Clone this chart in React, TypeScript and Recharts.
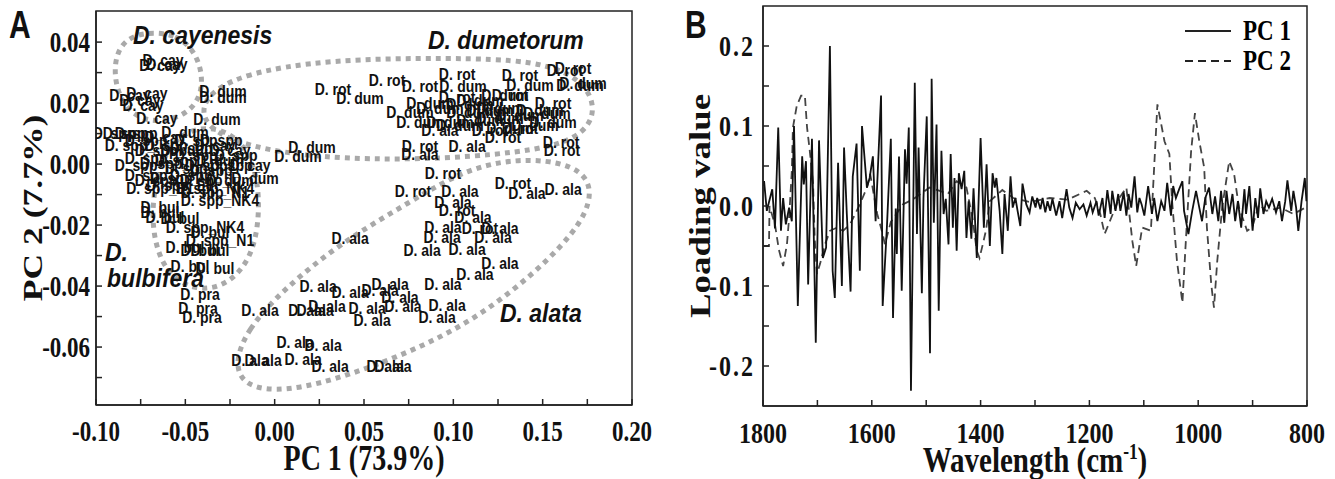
import React from 'react'
import {
  ComposedChart,
  LineChart,
  Line,
  Scatter,
  XAxis,
  YAxis,
  ReferenceArea,
  Legend,
} from 'recharts'

// ---------- Panel A: PCA scores (PC 1 vs PC 2) ----------
const alaPts = [
  [0.0813, 0.0033], [0.1077, 0.0059], [0.1037, -0.0089], [0.1412, -0.0095], [0.1614, -0.0082],
  [0.0998, -0.0125], [0.1110, -0.0174], [0.0942, -0.0207], [0.0937, -0.0239], [0.1222, -0.0239],
  [0.1261, -0.0210], [0.0422, -0.0243], [0.0825, -0.0282], [0.1077, -0.0279], [0.1261, -0.0325],
  [0.1121, -0.0361], [0.0942, -0.0393], [0.0646, -0.0393], [0.0243, -0.0400], [0.0422, -0.0420],
  [0.0590, -0.0413], [0.0701, -0.0436], [0.0293, -0.0466], [0.0517, -0.0472], [0.0718, -0.0466],
  [0.0965, -0.0462], [0.0181, -0.0479], [0.0545, -0.0511], [0.0909, -0.0502], [0.0271, -0.0593],
  [0.0310, -0.0662], [0.0662, -0.0662], [0.0618, -0.0662], [-0.0082, -0.0479], [0.0114, -0.0584],
  [-0.0065, -0.0643], [0.0159, -0.0639], [0.0226, -0.0479], [-0.0138, -0.0643], [0.0925, 0.0111],
]
const rotPts = [
  [0.0813, 0.0059], [0.1603, 0.0072], [0.1608, 0.0046], [0.0942, -0.0030], [0.0774, -0.0089],
  [0.1334, -0.0062], [0.1021, -0.0151], [0.1149, -0.0210], [0.1021, 0.0295], [0.1625, 0.0308],
  [0.1373, 0.0292], [0.0813, 0.0256], [0.1021, 0.0220], [0.1558, 0.0200], [0.1205, 0.0111],
  [0.1278, 0.0089], [0.0326, 0.0246], [0.0629, 0.0275], [0.1670, 0.0315], [0.1317, 0.0226],
  [0.1373, 0.0118],
]
const dumPts = [
  [0.1054, 0.0256], [0.1709, 0.0259], [0.0869, 0.0200], [0.0757, 0.0170], [0.1205, 0.0177],
  [0.1524, 0.0167], [0.0813, 0.0138], [0.1149, 0.0144], [0.1558, 0.0138], [0.0478, 0.0216],
  [0.1726, 0.0266], [0.0131, 0.0026], [0.0209, 0.0056], [-0.0289, 0.0239], [-0.0289, 0.0220],
  [-0.0323, 0.0148], [0.1093, 0.0197], [0.1429, 0.0259], [0.1261, 0.0151], [0.0981, 0.0138],
  [-0.0502, 0.0105], [-0.0306, 0.0013], [-0.0250, -0.0052], [-0.0110, -0.0046],
  [0.0925, 0.0184], [0.1093, 0.0170], [0.1261, 0.0184], [0.1373, 0.0161], [0.1485, 0.0177],
  [0.1037, 0.0128], [0.1317, 0.0118], [0.1457, 0.0128], [0.1149, 0.0210], [0.1289, 0.0226],
]
const cayPts = [
  [-0.0625, 0.0341], [-0.0603, 0.0328], [-0.0642, 0.0325], [-0.0715, 0.0233], [-0.0754, 0.0210],
  [-0.0737, 0.0193], [-0.0810, 0.0226], [-0.0659, 0.0151], [-0.0614, 0.0089], [-0.0334, 0.0062],
  [-0.0250, 0.0046], [-0.0138, -0.0003],
]
const sppPts = [
  [-0.0877, 0.0102], [-0.0821, 0.0102], [-0.0754, 0.0102], [-0.0698, 0.0079], [-0.0418, 0.0079],
  [-0.0194, 0.0030], [-0.0642, 0.0046], [-0.0418, 0.0030], [-0.0754, -0.0003], [-0.0614, 0.0003],
  [-0.0474, -0.0013], [-0.0334, -0.0020], [-0.0698, -0.0036], [-0.0558, -0.0046], [-0.0390, -0.0052],
  [-0.0810, 0.0062], [-0.0586, 0.0062], [-0.0446, 0.0052], [-0.0278, 0.0079], [-0.0698, 0.0020],
  [-0.0530, 0.0013], [-0.0362, -0.0003], [-0.0222, -0.0003], [-0.0642, -0.0052], [-0.0446, -0.0036],
]
const sppE1Pts = [[-0.0642, -0.0079], [-0.0530, -0.0069]]
const sppNK4Pts = [[-0.0334, -0.0079], [-0.0306, -0.0118], [-0.0390, -0.0207]]
const sppN1Pts = [[-0.0334, -0.0092], [-0.0306, -0.0249]]
const bulPts = [
  [-0.0642, -0.0141], [-0.0642, -0.0157], [-0.0614, -0.0174], [-0.0530, -0.0177], [-0.0362, -0.0223],
  [-0.0502, -0.0272], [-0.0418, -0.0282], [-0.0362, -0.0282], [-0.0474, -0.0334], [-0.0334, -0.0341],
  [-0.0530, 0.0046],
]
const praPts = [[-0.0418, -0.0426], [-0.0429, -0.0472], [-0.0407, -0.0502]]

// dotted group outlines
const cayRing = [
  [-0.0765, 0.0433], [-0.0541, 0.0430], [-0.0418, 0.0348], [-0.0396, 0.0236], [-0.0491, 0.0157],
  [-0.0698, 0.0131], [-0.0849, 0.0184], [-0.0905, 0.0292], [-0.0877, 0.0387],
]
const dumRing = [
  [-0.0418, 0.0210], [-0.0205, 0.0295], [0.0310, 0.0344], [0.0981, 0.0348], [0.1457, 0.0341],
  [0.1720, 0.0282], [0.1810, 0.0177], [0.1709, 0.0079], [0.1373, 0.0036], [0.0813, 0.0013],
  [0.0254, 0.0020], [-0.0149, 0.0056], [-0.0390, 0.0118],
]
const alaRing = [
  [-0.0233, -0.0669], [-0.0160, -0.0544], [0.0063, -0.0403], [0.0377, -0.0256], [0.0746, -0.0128],
  [0.1093, -0.0007], [0.1440, 0.0023], [0.1743, -0.0013], [0.1787, -0.0125], [0.1625, -0.0266],
  [0.1278, -0.0446], [0.0937, -0.0570], [0.0534, -0.0669], [0.0142, -0.0741], [-0.0138, -0.0741],
]
const bulRing = [
  [-0.0418, 0.0131], [-0.0205, 0.0098], [-0.0099, -0.0020], [-0.0082, -0.0167], [-0.0127, -0.0308],
  [-0.0267, -0.0400], [-0.0446, -0.0416], [-0.0608, -0.0361], [-0.0687, -0.0233], [-0.0681, -0.0079],
  [-0.0597, 0.0069],
]

const groupNames = [
  { x: -0.0793, y: 0.0423, label: 'D. cayenesis' },
  { x: 0.0858, y: 0.0407, label: 'D. dumetorum' },
  { x: 0.1261, y: -0.0489, label: 'D. alata' },
  { x: -0.0950, y: -0.0289, label: 'D.' },
  { x: -0.0938, y: -0.0374, label: 'bulbifera' },
]

const aXTicks = [-0.1, -0.075, -0.05, -0.025, 0, 0.025, 0.05, 0.075, 0.1, 0.125, 0.15, 0.175, 0.2]
const aYTicks = [-0.07, -0.06, -0.05, -0.04, -0.03, -0.02, -0.01, 0, 0.01, 0.02, 0.03, 0.04]

// ---------- Panel B: loadings ----------
const pc1 = [
  [1800, 0.025], [1798, 0.031], [1793, -0.006], [1783, 0.021], [1778, -0.028], [1772, 0.098],
  [1767, -0.031], [1763, 0.010], [1758, -0.023], [1752, -0.002], [1747, -0.019], [1743, 0.100],
  [1736, -0.125], [1728, 0.062], [1725, 0.027], [1721, 0.056], [1717, -0.098], [1710, 0.084],
  [1703, -0.171], [1697, 0.082], [1690, -0.065], [1684, -0.052], [1677, 0.200], [1672, -0.081],
  [1668, -0.115], [1662, 0.054], [1655, -0.100], [1651, 0.073], [1646, -0.009], [1639, -0.107],
  [1635, 0.037], [1628, 0.078], [1622, -0.081], [1618, 0.100], [1609, 0.023], [1604, 0.035],
  [1598, 0.062], [1593, -0.019], [1583, 0.138], [1580, -0.125], [1572, -0.023], [1565, 0.084],
  [1561, -0.140], [1556, -0.003], [1554, -0.060], [1550, 0.062], [1545, -0.106], [1539, 0.071],
  [1536, 0.028], [1532, 0.098], [1528, -0.231], [1521, 0.154], [1517, -0.035], [1514, 0.073],
  [1508, -0.109], [1505, 0.010], [1499, 0.112], [1493, -0.184], [1490, 0.159], [1486, -0.021],
  [1481, 0.102], [1477, -0.131], [1472, 0.069], [1468, -0.010], [1464, 0.009], [1459, -0.048],
  [1455, 0.065], [1451, -0.027], [1448, 0.035], [1444, -0.056], [1440, 0.041], [1435, 0.021],
  [1430, 0.044], [1426, -0.040], [1422, 0.006], [1417, -0.041], [1413, 0.022], [1407, -0.065],
  [1400, 0.085], [1394, -0.027], [1389, 0.052], [1383, -0.050], [1378, 0.041], [1374, 0.023],
  [1371, 0.035], [1365, -0.006], [1360, -0.060], [1356, 0.015], [1350, -0.031], [1345, 0.037],
  [1341, -0.002], [1336, 0.010], [1332, -0.006], [1327, -0.025], [1323, 0.028], [1316, 0.002],
  [1310, -0.008], [1305, 0.012], [1299, -0.002], [1296, 0.010], [1290, -0.004], [1286, 0.010],
  [1281, -0.008], [1277, 0.006], [1272, -0.006], [1268, 0.009], [1261, -0.012], [1255, 0.006],
  [1250, -0.015], [1242, 0.021], [1237, -0.002], [1231, -0.015], [1225, 0.004], [1218, -0.004],
  [1211, 0.002], [1205, -0.012], [1198, 0.004], [1194, -0.008], [1187, 0.006], [1183, -0.012],
  [1176, 0.010], [1172, -0.015], [1167, 0.020], [1161, -0.010], [1158, 0.019], [1152, -0.006],
  [1147, 0.015], [1143, -0.006], [1137, 0.017], [1132, -0.012], [1128, 0.015], [1123, -0.002],
  [1117, 0.037], [1112, -0.008], [1108, 0.010], [1104, 0.002], [1099, -0.012], [1092, 0.025],
  [1085, -0.010], [1081, 0.010], [1075, -0.019], [1068, 0.006], [1062, -0.006], [1057, 0.029],
  [1050, -0.012], [1046, 0.025], [1041, 0.010], [1035, 0.021], [1029, 0.031], [1026, -0.006],
  [1018, -0.035], [1011, -0.006], [1004, 0.019], [998, -0.002], [993, -0.019], [987, 0.010],
  [980, 0.023], [974, -0.010], [969, 0.012], [963, -0.019], [958, 0.019], [952, -0.021],
  [948, 0.019], [943, -0.010], [937, 0.015], [932, -0.019], [927, 0.006], [921, -0.027],
  [915, 0.021], [912, -0.010], [906, 0.025], [900, -0.031], [895, 0.010], [890, -0.015],
  [886, 0.022], [880, -0.010], [875, 0.006], [870, -0.002], [864, 0.009], [857, -0.008],
  [851, 0.006], [846, -0.019], [840, 0.006], [836, 0.032], [829, -0.006], [825, 0.019],
  [820, -0.002], [816, -0.031], [810, 0.006], [804, 0.035], [801, 0.006],
]
const pc2 = [
  [1800, -0.050], [1789, -0.050], [1788, 0.000], [1783, -0.012], [1778, -0.023], [1771, -0.054],
  [1763, -0.075], [1756, -0.048], [1752, -0.015], [1747, 0.044], [1745, 0.098], [1738, 0.125],
  [1730, 0.138], [1723, 0.138], [1719, 0.098], [1714, 0.069], [1708, 0.028], [1705, -0.040],
  [1701, -0.085], [1695, -0.072], [1686, -0.048], [1677, -0.031], [1664, -0.027], [1653, -0.031],
  [1640, -0.023], [1622, 0.002], [1609, 0.023], [1603, 0.040], [1590, -0.010], [1580, -0.035],
  [1576, -0.048], [1565, -0.020], [1543, 0.002], [1525, 0.008], [1494, 0.023], [1475, 0.019],
  [1460, 0.015], [1444, 0.031], [1426, 0.023], [1415, -0.015], [1407, -0.056], [1402, -0.065],
  [1396, -0.048], [1390, -0.030], [1383, 0.006], [1360, 0.020], [1340, 0.010], [1310, 0.005],
  [1273, 0.010], [1240, 0.008], [1205, 0.019], [1190, 0.010], [1180, -0.010], [1172, -0.035],
  [1160, -0.015], [1145, 0.010], [1132, 0.023], [1121, -0.044], [1114, -0.075], [1103, -0.027],
  [1087, -0.031], [1081, 0.048], [1075, 0.127], [1062, 0.081], [1053, 0.065], [1048, 0.006],
  [1039, -0.069], [1029, -0.121], [1022, -0.035], [1013, 0.069], [1006, 0.116], [998, 0.081],
  [989, 0.048], [984, -0.027], [976, -0.098], [971, -0.127], [965, -0.069], [956, -0.002],
  [943, 0.056], [934, 0.040], [925, -0.002], [910, -0.031], [901, -0.027], [888, 0.002],
  [875, -0.006], [849, -0.002], [825, -0.010], [803, -0.002],
]

const bXTicks = [800, 900, 1000, 1100, 1200, 1300, 1400, 1500, 1600, 1700, 1800]
const bYTicks = [-0.2, -0.15, -0.1, -0.05, 0, 0.05, 0.1, 0.15, 0.2]

const SERIF = '"Liberation Serif", "Times New Roman", serif'
const SANS = '"Liberation Sans", Arial, sans-serif'
const STRETCH = 1.27
const INK = '#222'

const toXY = (pts: number[][], label = '') => pts.map(([x, y]) => ({ x, y, label }))
const toWV = (pts: number[][]) => pts.map(([w, v]) => ({ w, v }))

const makeTick = (side: 'bottom' | 'left', isMajor: (v: number) => boolean, fmt: (v: number) => string, size: number, spacing = 0) =>
  (p: any) => {
    const v = p.payload.value
    if (!isMajor(v)) return <g />
    return (
      <g transform={`translate(${p.x},${p.y}) scale(1,${STRETCH})`}>
        <text
          x={0}
          y={0}
          dy={side === 'bottom' ? 0 : '0.34em'}
          textAnchor={side === 'bottom' ? 'middle' : 'end'}
          fontFamily={SERIF}
          fontWeight="bold"
          fontSize={size}
          letterSpacing={spacing}
          fill="#111"
        >
          {fmt(v)}
        </text>
      </g>
    )
  }

const YTitle = (props: any) => {
  const { viewBox, text, dx, size } = props
  const cx = viewBox.x + dx
  const cy = viewBox.y + viewBox.height / 2
  return (
    <g transform={`translate(${cx},${cy}) scale(1,${STRETCH}) rotate(-90)`}>
      <text textAnchor="middle" dominantBaseline="central" fontFamily={SERIF} fontWeight="bold" fontSize={size} fill="#111">
        {text}
      </text>
    </g>
  )
}

const XTitle = (props: any) => {
  const { viewBox, dy, size, sup } = props
  const cx = viewBox.x + viewBox.width / 2
  return (
    <g transform={`translate(${cx},${viewBox.y + dy}) scale(1,${STRETCH})`}>
      <text textAnchor="middle" fontFamily={SERIF} fontWeight="bold" fontSize={size} fill="#111">
        {props.text}
        {sup ? (
          <>
            <tspan dy={-10} fontSize={size * 0.6}>{sup}</tspan>
            <tspan dy={10}>)</tspan>
          </>
        ) : null}
      </text>
    </g>
  )
}

const pointLabel = (p: any) => {
  if (p.cx == null) return <g />
  return (
    <g transform={`translate(${p.cx},${p.cy}) scale(1,1.2)`}>
      <text x={0} y={0} dy="0.35em" textAnchor="middle" fontFamily={SANS} fontWeight="bold" fontSize={14} fill="#111">
        {p.payload.label}
      </text>
    </g>
  )
}

const groupLabel = (p: any) => {
  if (p.cx == null) return <g />
  return (
    <g transform={`translate(${p.cx},${p.cy}) scale(1,1.1)`}>
      <text x={0} y={0} dy="0.35em" fontFamily={SANS} fontStyle="italic" fontWeight="bold" fontSize={23} fill="#111">
        {p.payload.label}
      </text>
    </g>
  )
}

const ringStyle = { stroke: '#a9a9a9', strokeWidth: 5, strokeDasharray: '5 5' }

const PanelA = () => (
  <ComposedChart width={680} height={479} margin={{ top: 11, right: 48, bottom: 14, left: 16 }}>
    <XAxis
      type="number"
      dataKey="x"
      domain={[-0.1, 0.2]}
      allowDataOverflow
      ticks={aXTicks}
      interval={0}
      height={60}
      tickSize={-6}
      tickMargin={42}
      axisLine={{ stroke: INK, strokeWidth: 1.5 }}
      tickLine={{ stroke: INK, strokeWidth: 1.5 }}
      tick={makeTick('bottom', (v) => Math.round(v * 1000) % 50 === 0, (v) => v.toFixed(2), 23)}
      label={<XTitle text="PC 1 (73.9%)" dy={65} size={28} />}
    />
    <YAxis
      type="number"
      dataKey="y"
      domain={[-0.079, 0.0502]}
      allowDataOverflow
      ticks={aYTicks}
      interval={0}
      width={80}
      tickSize={-6}
      tickMargin={12}
      axisLine={{ stroke: INK, strokeWidth: 1.5 }}
      tickLine={{ stroke: INK, strokeWidth: 1.5 }}
      tick={makeTick('left', (v) => Math.round(v * 100) % 2 === 0, (v) => v.toFixed(2), 23)}
      label={<YTitle text="PC 2 (7.7%)" dx={16} size={28} />}
    />
    <ReferenceArea x1={-0.1} x2={0.2} y1={-0.079} y2={0.0502} fill="none" stroke={INK} strokeWidth={1.5} ifOverflow="visible" />
    <Line data={toXY(cayRing)} dataKey="y" type="basisClosed" dot={false} isAnimationActive={false} {...ringStyle} />
    <Line data={toXY(dumRing)} dataKey="y" type="basisClosed" dot={false} isAnimationActive={false} {...ringStyle} />
    <Line data={toXY(alaRing)} dataKey="y" type="basisClosed" dot={false} isAnimationActive={false} {...ringStyle} />
    <Line data={toXY(bulRing)} dataKey="y" type="basisClosed" dot={false} isAnimationActive={false} {...ringStyle} />
    <Scatter data={toXY(alaPts, 'D. ala')} shape={pointLabel} isAnimationActive={false} />
    <Scatter data={toXY(rotPts, 'D. rot')} shape={pointLabel} isAnimationActive={false} />
    <Scatter data={toXY(dumPts, 'D. dum')} shape={pointLabel} isAnimationActive={false} />
    <Scatter data={toXY(cayPts, 'D. cay')} shape={pointLabel} isAnimationActive={false} />
    <Scatter data={toXY(sppPts, 'D. spp_')} shape={pointLabel} isAnimationActive={false} />
    <Scatter data={toXY(sppE1Pts, 'D. spp_E1')} shape={pointLabel} isAnimationActive={false} />
    <Scatter data={toXY(sppNK4Pts, 'D. spp_NK4')} shape={pointLabel} isAnimationActive={false} />
    <Scatter data={toXY(sppN1Pts, 'D. spp_N1')} shape={pointLabel} isAnimationActive={false} />
    <Scatter data={toXY(bulPts, 'D. bul')} shape={pointLabel} isAnimationActive={false} />
    <Scatter data={toXY(praPts, 'D. pra')} shape={pointLabel} isAnimationActive={false} />
    <Scatter data={groupNames} shape={groupLabel} isAnimationActive={false} />
  </ComposedChart>
)

const dashes: Record<string, string | undefined> = { 'PC 1': undefined, 'PC 2': '8 5' }

const LegendBox = (props: any) => (
  <div style={{ fontFamily: SERIF, fontWeight: 'bold', fontSize: 23 }}>
    {(props.payload || []).map((e: any) => (
      <div key={e.value} style={{ display: 'flex', alignItems: 'center', height: 30, transform: `scale(1,${STRETCH})` }}>
        <svg width={58} height={10}>
          <line x1={0} y1={5} x2={46} y2={5} stroke="#222" strokeWidth={1.6} strokeDasharray={dashes[e.value]} />
        </svg>
        <span>{e.value}</span>
      </div>
    ))}
  </div>
)

const PanelB = () => (
  <LineChart width={655} height={479} margin={{ top: 6, right: 28, bottom: 13, left: 13 }}>
    <XAxis
      type="number"
      dataKey="w"
      domain={[800, 1800]}
      reversed
      allowDataOverflow
      ticks={bXTicks}
      interval={0}
      height={60}
      tickSize={-6}
      tickMargin={43}
      axisLine={{ stroke: INK, strokeWidth: 1.5 }}
      tickLine={{ stroke: INK, strokeWidth: 1.5 }}
      tick={makeTick('bottom', (v) => v % 200 === 0, (v) => String(v), 24)}
      label={<XTitle text="Wavelength (cm" sup="-1" dy={66} size={29} />}
    />
    <YAxis
      type="number"
      domain={[-0.25, 0.25]}
      allowDataOverflow
      ticks={bYTicks}
      interval={0}
      width={70}
      tickSize={-6}
      tickMargin={14}
      axisLine={{ stroke: INK, strokeWidth: 1.5 }}
      tickLine={{ stroke: INK, strokeWidth: 1.5 }}
      tick={makeTick('left', (v) => Math.round(v * 100) % 10 === 0, (v) => v.toFixed(1), 24, 2)}
      label={<YTitle text="Loading value" dx={7} size={29} />}
    />
    <ReferenceArea x1={800} x2={1800} y1={-0.25} y2={0.25} fill="none" stroke={INK} strokeWidth={1.5} ifOverflow="visible" />
    <Line data={toWV(pc2)} dataKey="v" name="PC 2" type="linear" stroke="#444" strokeWidth={1.8} strokeDasharray="8 5" dot={false} isAnimationActive={false} />
    <Line data={toWV(pc1)} dataKey="v" name="PC 1" type="linear" stroke="#111" strokeWidth={1.8} dot={false} isAnimationActive={false} />
    <Legend
      layout="vertical"
      align="center"
      verticalAlign="middle"
      itemSorter="value"
      wrapperStyle={{ left: 505, top: 16, width: 140 }}
      content={(p: any) => <LegendBox {...p} />}
    />
  </LineChart>
)

const letter = (text: string, left: number) => (
  <div
    style={{
      position: 'absolute',
      left,
      top: 4,
      fontFamily: SANS,
      fontWeight: 'bold',
      fontSize: 30,
      transform: `scale(1,${STRETCH})`,
      transformOrigin: 'top left',
      color: '#111',
    }}
  >
    {text}
  </div>
)

export default function App() {
  return (
    <div style={{ position: 'absolute', left: 0, top: 0, width: 1335, height: 479, background: '#fff', overflow: 'hidden' }}>
      <div style={{ position: 'absolute', left: 0, top: 0 }}>
        <PanelA />
      </div>
      <div style={{ position: 'absolute', left: 680, top: 0 }}>
        <PanelB />
      </div>
      {letter('A', 9)}
      {letter('B', 685)}
    </div>
  )
}
